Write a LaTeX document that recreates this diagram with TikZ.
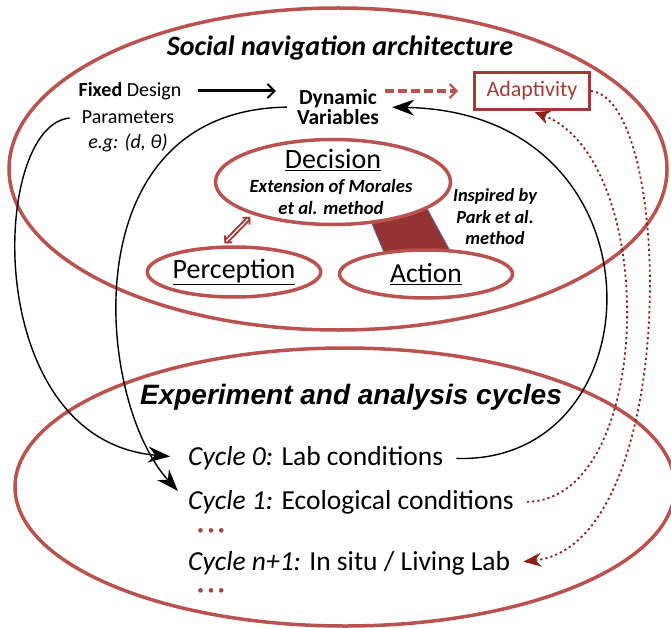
\documentclass[tikz,border=0pt]{standalone}
\usepackage{fontspec}
\setmainfont{Carlito}
\newfontfamily\arialfont{Liberation Sans}
\usepackage{xcolor}
\usetikzlibrary{shapes.geometric, arrows.meta, backgrounds}
\definecolor{rimred}{RGB}{186,82,80}
\definecolor{boxred}{RGB}{163,58,56}
\definecolor{darkred}{RGB}{139,32,22}
\definecolor{bandred}{RGB}{148,52,50}
\definecolor{bandblue}{RGB}{90,110,170}
\tikzset{
    every node/.style={font=\fontsize{20}{24}\selectfont, inner sep=0pt},
    bigoval/.style={draw=rimred, line width=3.5pt, ellipse},
    smalloval/.style={draw=rimred, line width=3.5pt, fill=white, ellipse},
    cyclearrow/.style={black, line width=1.4pt, -{Stealth[length=22pt,width=16pt]}},
    feedback/.style={darkred, line width=1.8pt, dash pattern=on 2.2pt off 3pt, -{Stealth[length=18pt,width=14pt]}},
    cyclefont/.style={font=\fontsize{27.5}{32}\selectfont}
}

\begin{document}
\begin{tikzpicture}[x=1pt, y=-1pt]
        \useasboundingbox (0,0) rectangle (671,628);
        % the two big ovals
        \node[bigoval, minimum width=658pt, minimum height=322pt] (arch) at (338,169) {};
        \node[bigoval, minimum width=660pt, minimum height=278pt] (cycles) at (345,487) {};

        \node[font=\fontsize{28}{32}\selectfont\bfseries\itshape] (archtitle) at (340,48) {Social navigation architecture};
        \node (fixed) at (130,91) {\textbf{Fixed} Design};
        \node (params) at (128,117) {Parameters};
        \node (eg) at (128,143) {\textit{e.g: (d, θ)}};
        \node[align=center, font=\fontsize{21.5}{20}\selectfont\bfseries] (dyn) at (338,107) {Dynamic\\Variables};
        \node[draw=boxred, line width=3pt, text=boxred, minimum width=115pt, minimum height=37pt, font=\fontsize{22}{26}\selectfont] (adapt) at (532,91) {Adaptivity};

        % architecture blocks
        \node[smalloval, minimum width=235pt, minimum height=85pt] (decision) at (333,182) {};
        \node[smalloval, minimum width=173pt, minimum height=50pt, font=\fontsize{28}{32}\selectfont] (perception) at (234,272) {\underline{Perception}};
        \node[smalloval, minimum width=173pt, minimum height=48pt, font=\fontsize{27.5}{32}\selectfont] (action) at (426,274) {\underline{Action}};
        \node[font=\fontsize{28}{32}\selectfont] (dectitle) at (333,160) {\underline{Decision}};
        \node[align=center, font=\fontsize{18.7}{22}\selectfont\bfseries\itshape] (decnote) at (331,197) {Extension of Morales\\et al. method};
        \node[align=center, font=\fontsize{18.4}{21.5}\selectfont\bfseries\itshape] (inspired) at (495,217) {Inspired by\\Park et al.\\method};

        \begin{scope}[on background layer]
            \fill[bandred] (decision.-47) -- (decision.-16) -- (action.47) -- (action.152) -- cycle;
            \draw[bandblue, line width=0.8pt] (decision.-47) -- (action.152) (decision.-16) -- (action.47);
        \end{scope}

        \draw[boxred, line width=2pt, double, double distance=1.2pt, {Straight Barb[length=5pt,width=10pt,line width=1.8pt]}-{Straight Barb[length=5pt,width=10pt,line width=1.8pt]}, shorten <=3pt, shorten >=3pt] (perception.114) -- (decision.202);

        % cycles
        \node[font=\arialfont\fontsize{28}{32}\selectfont\bfseries\itshape] (exptitle) at (351,397) {Experiment and analysis cycles};
        \node[anchor=west, cyclefont] (cyc0) at (188,458) {\textit{Cycle 0:} Lab conditions};
        \node[anchor=west, cyclefont] (cyc1) at (188,502) {\textit{Cycle 1:} Ecological conditions};
        \node[text=rimred!85!black, font=\fontsize{13}{16}\selectfont] (dotsa) at (211,532) {•\hspace{4pt}•\hspace{4pt}•};
        \node[anchor=west, cyclefont] (cycn) at (188,563) {\textit{Cycle n+1:} In situ / Living Lab};
        \node[text=rimred!85!black, font=\fontsize{13}{16}\selectfont] (dotsb) at (211,592) {•\hspace{4pt}•\hspace{4pt}•};

        % connectors
        \draw[-{Straight Barb[length=7pt,width=14pt,line width=2pt]}, line width=3pt, shorten <=16pt, shorten >=21pt] (fixed.east) -- (fixed.east -| dyn.west);
        \draw[rimred, line width=3.5pt, dash pattern=on 9pt off 4pt, -{Straight Barb[length=7pt,width=14pt,line width=2pt]}, shorten <=6pt, shorten >=15pt] (adapt.west -| dyn.east) -- (adapt.west);
        \draw[cyclearrow, shorten <=12pt, shorten >=18pt] (params.west) .. controls (-10,125) and (-20,440) .. (cyc0.west);
        \draw[cyclearrow, shorten <=10pt, shorten >=15pt] (dyn.west) .. controls (70,110) and (95,400) .. (cyc1.west);
        \draw[cyclearrow, shorten <=13pt, shorten >=13pt] (cyc0.east) .. controls (660,465) and (670,112) .. (dyn.east);
        \draw[feedback, shorten >=13pt] (adapt.east) .. controls (675,100) and (680,545) .. (cycn.east);
        \draw[feedback, -{Stealth[length=15pt,width=14pt]}, shorten <=13pt, shorten >=3pt] (cyc1.east) .. controls (655,500) and (660,160) .. (adapt.south);
\end{tikzpicture}
\end{document}
